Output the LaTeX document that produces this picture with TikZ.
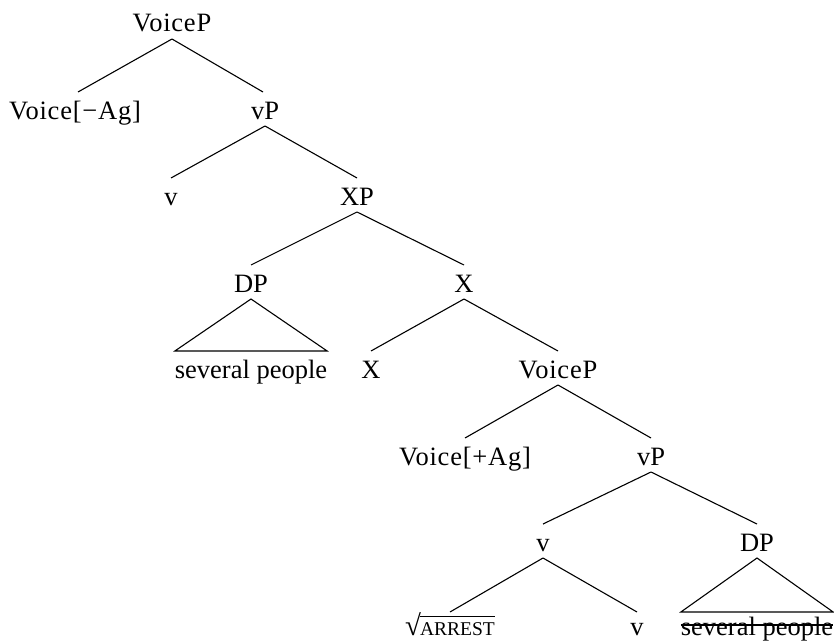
\documentclass[tikz,border=0pt]{standalone}
\usepackage{fontspec}
\setmainfont{Liberation Serif}
\newcommand\myroot[1]{\mbox{\fontsize{29}{29}\selectfont √}\kern-1pt\vbox{\hrule height 0.9pt\kern 5.5pt\hbox{\fontsize{19.5}{19.5}\selectfont #1}}}
\begin{document}
\begin{tikzpicture}[x=1pt,y=-1pt,
  lab/.style={anchor=base,inner sep=0pt,outer sep=0pt,text height=27pt,text depth=7pt,font=\fontsize{26.5}{30}\selectfont},
  vlab/.style={lab,font=\fontsize{26.5}{30}\selectfont\addfontfeature{LetterSpace=3}},
  edge/.style={line width=1.1pt},
  tri/.style={line width=1.1pt,line join=miter}]
\useasboundingbox (0,0) rectangle (834,642);
\node[vlab] (vp0) at (172,32) {VoiceP};
\node[vlab] (vneg) at (75,119) {Voice[−Ag]};
\node[lab] (vP1) at (265,119) {vP};
\node[lab] (v1) at (171,205) {v};
\node[lab] (XP) at (357,205) {XP};
\node[lab] (DP1) at (251,292) {DP};
\node[lab] (Xbar) at (464,292) {X};
\node[lab] (sp1) at (251,378) {several people};
\node[lab] (X2) at (371,378) {X};
\node[vlab] (vp2) at (558,378) {VoiceP};
\node[vlab] (vpos) at (465,465) {Voice[+Ag]};
\node[lab] (vP2) at (651,465) {vP};
\node[lab] (v2) at (543,551) {v};
\node[lab] (DP2) at (757,551) {DP};
\node[lab,text height=23pt] (root) at (450,635) {\myroot{ARREST}};
\node[lab,text height=23pt] (v3) at (637,635) {v};
\node[lab,text height=23pt] (sp2) at (757,635) {several people};

\draw[edge] (vp0.south) -- ([xshift=3pt]vneg.north);
\draw[edge] (vp0.south) -- ([xshift=-2pt]vP1.north);
\draw[edge] (vP1.south) -- (v1.north);
\draw[edge] (vP1.south) -- (XP.north);
\draw[edge] (XP.south) -- (DP1.north);
\draw[edge] (XP.south) -- (Xbar.north);
\draw[tri] (DP1.south) -- (sp1.north west) -- (sp1.north east) -- cycle;
\draw[edge] (Xbar.south) -- (X2.north);
\draw[edge] (Xbar.south) -- (vp2.north);
\draw[edge] (vp2.south) -- (vpos.north);
\draw[edge] (vp2.south) -- (vP2.north);
\draw[edge] (vP2.south) -- (v2.north);
\draw[edge] (vP2.south) -- (DP2.north);
\draw[edge] (v2.south) -- (root.north);
\draw[edge] (v2.south) -- (v3.north);
\draw[tri] (DP2.south) -- (sp2.north west) -- (sp2.north east) -- cycle;
\draw[edge] ([yshift=10pt]sp2.base west) -- ([yshift=10pt]sp2.base east);
\end{tikzpicture}
\end{document}
